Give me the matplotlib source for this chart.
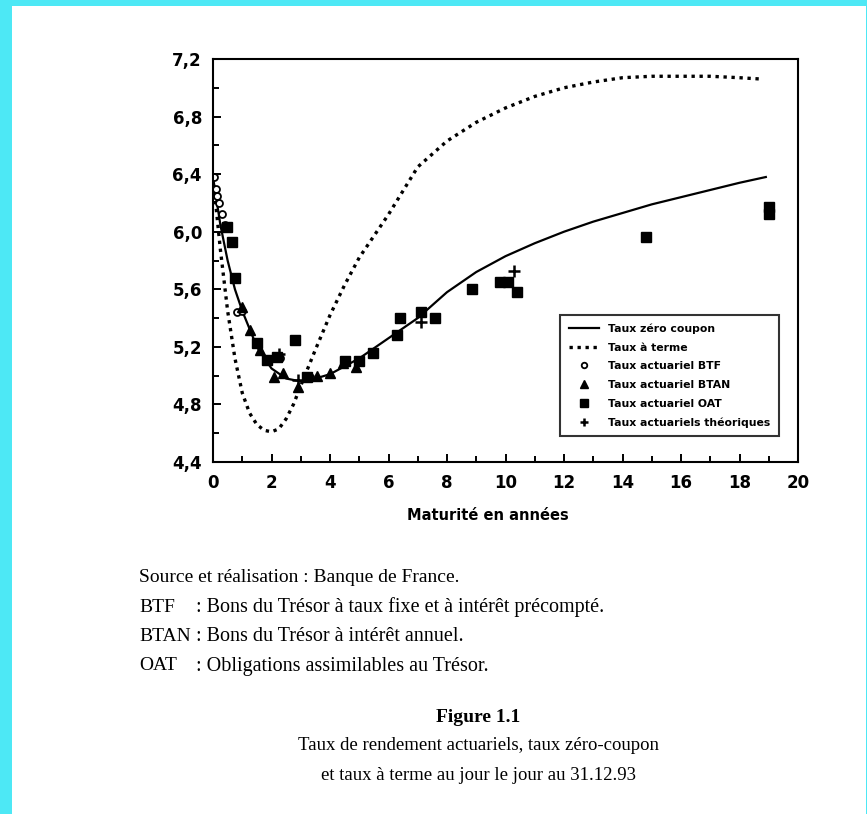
import matplotlib
matplotlib.use('Agg')
import matplotlib.pyplot as plt
from matplotlib.patches import Rectangle
from matplotlib.ticker import MultipleLocator, FuncFormatter

# zero-coupon curve and forward (overnight) curve
maturities = [0, 0.25, 0.5, 0.75, 1, 1.5, 2, 2.5, 3, 3.5, 4, 5, 6, 7, 8, 9, 10,
              11, 12, 13, 14, 15, 16, 17, 18, 18.9]
zero_coupon = [6.38, 6.05, 5.8, 5.6, 5.45, 5.2, 5.05, 4.98, 4.96, 4.98, 5.01, 5.12,
               5.26, 5.40, 5.58, 5.72, 5.83, 5.92, 6.0, 6.07, 6.13, 6.19, 6.24,
               6.29, 6.34, 6.38]

fwd_maturities = [0, 0.25, 0.5, 0.75, 1, 1.25, 1.5, 1.75, 2, 2.25, 2.5, 2.75, 3,
                  3.5, 4, 4.5, 5, 6, 7, 8, 9, 10, 11, 12, 13, 14, 15, 16, 17, 18, 18.8]
forward = [6.38, 5.88, 5.45, 5.12, 4.88, 4.74, 4.66, 4.62, 4.61, 4.63, 4.7, 4.8,
           4.93, 5.18, 5.42, 5.63, 5.82, 6.12, 6.45, 6.63, 6.76, 6.86, 6.94, 7.0,
           7.04, 7.07, 7.08, 7.08, 7.08, 7.07, 7.06]

# observed yields
btf_x = [0.05, 0.1, 0.15, 0.2, 0.3, 0.4, 0.82, 1.0, 2.3, 3.3]
btf_y = [6.38, 6.3, 6.25, 6.2, 6.12, 6.05, 5.44, 5.45, 5.12, 4.99]

btan_x = [1.0, 1.26, 1.6, 2.1, 2.4, 2.9, 3.55, 4.0, 4.45, 4.9]
btan_y = [5.48, 5.32, 5.18, 4.99, 5.02, 4.92, 5.0, 5.02, 5.09, 5.06]

oat_x = [0.48, 0.65, 0.75, 1.5, 1.84, 2.2, 2.8, 3.2, 4.5, 5.0, 5.47, 6.3, 6.4,
         7.1, 7.6, 8.85, 9.8, 10.1, 10.4, 14.8, 19.0, 19.0]
oat_y = [6.03, 5.93, 5.68, 5.23, 5.11, 5.13, 5.25, 4.99, 5.1, 5.1, 5.16, 5.28, 5.4,
         5.44, 5.4, 5.6, 5.65, 5.65, 5.58, 5.96, 6.17, 6.12]

theo_x = [2.25, 2.9, 7.1, 10.3]
theo_y = [5.15, 4.97, 5.37, 5.73]

labels = ['Taux zéro coupon', 'Taux à terme', 'Taux actuariel BTF',
          'Taux actuariel BTAN', 'Taux actuariel OAT', 'Taux actuariels théoriques']

notes = ['Source et réalisation : Banque de France.',
         ('BTF', ': Bons du Trésor à taux fixe et à intérêt précompté.'),
         ('BTAN', ': Bons du Trésor à intérêt annuel.'),
         ('OAT', ': Obligations assimilables au Trésor.')]
caption = ['Figure 1.1',
           'Taux de rendement actuariels, taux zéro-coupon',
           'et taux à terme au jour le jour au 31.12.93']

W, H = 867, 814
fig = plt.figure(figsize=(W / 100, H / 100), dpi=100, facecolor='#4de8f5')
# white page inside the cyan frame
fig.patches.append(Rectangle((12 / W, 0), (W - 13) / W, (H - 6) / H,
                             transform=fig.transFigure, facecolor='white',
                             edgecolor='none', zorder=-5))

ax = fig.add_axes([213 / W, 1 - 462 / H, 585 / W, 403 / H])
ax.set_zorder(2)
ax.set_facecolor('white')

ax.plot(maturities, zero_coupon, color='black', lw=1.6, label=labels[0])
ax.plot(fwd_maturities, forward, color='black', lw=2.4, linestyle=(0, (1, 1.4)),
        dash_capstyle='butt', label=labels[1])
ax.plot(btf_x, btf_y, 'o', ms=5, mfc='white', mec='black', mew=1.3, label=labels[2])
ax.plot(btan_x, btan_y, '^', ms=7, color='black', label=labels[3])
ax.plot(oat_x, oat_y, 's', ms=7, color='black', label=labels[4])
ax.plot(theo_x, theo_y, '+', ms=8, mew=1.8, color='black', label=labels[5])

ax.set_xlim(0, 20)
ax.set_ylim(4.4, 7.2)
ax.xaxis.set_major_locator(MultipleLocator(2))
ax.xaxis.set_minor_locator(MultipleLocator(1))
ax.yaxis.set_major_locator(MultipleLocator(0.4))
ax.yaxis.set_minor_locator(MultipleLocator(0.2))
# french decimal comma
ax.yaxis.set_major_formatter(FuncFormatter(lambda v, p: ('%.1f' % v).replace('.', ',')))
ax.tick_params(which='both', direction='in', width=1.4, colors='black')
ax.tick_params(which='major', length=6)
ax.tick_params(which='minor', length=4)
ax.tick_params(axis='x', pad=9)
ax.tick_params(axis='y', pad=8)
for lab in ax.get_xticklabels() + ax.get_yticklabels():
    lab.set_fontweight('bold')
    lab.set_fontsize(12)
for s in ax.spines.values():
    s.set_linewidth(1.5)

ax.set_xlabel('Maturité en années', fontsize=10.5, fontweight='bold', labelpad=14)
ax.xaxis.set_label_coords(0.47, -0.115)

leg = ax.legend(loc='lower right', bbox_to_anchor=(0.976, 0.05), fontsize=7.8,
                frameon=True, fancybox=False, edgecolor='black', labelspacing=0.8,
                handlelength=2.8, borderpad=0.8, markerscale=0.8)
leg.get_frame().set_linewidth(1.5)
for t in leg.get_texts():
    t.set_fontweight('bold')

# notes under the chart
serif = 'Liberation Serif'
fig.text(139 / W, 1 - 578 / H, notes[0], family=serif, fontsize=14, va='center')
for i, (abbr, txt) in enumerate(notes[1:]):
    y = 1 - (607 + 29.5 * i) / H
    fig.text(139 / W, y, abbr, family=serif, fontsize=14, va='center')
    fig.text(196 / W, y, txt, family=serif, fontsize=14.5, va='center')

fig.text(478 / W, 1 - 718 / H, caption[0], family=serif, fontsize=14,
         fontweight='bold', ha='center', va='center')
fig.text(478 / W, 1 - 746 / H, caption[1], family=serif, fontsize=13.5,
         ha='center', va='center')
fig.text(478 / W, 1 - 775 / H, caption[2], family=serif, fontsize=13.5,
         ha='center', va='center')

fig.savefig('out.png', dpi=100, facecolor=fig.get_facecolor())
